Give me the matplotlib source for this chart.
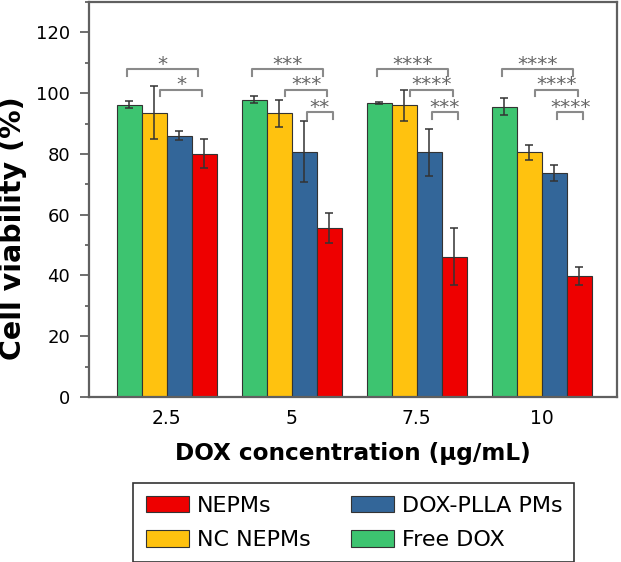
import numpy as np
import matplotlib.pyplot as plt
from matplotlib.ticker import MultipleLocator

plt.rcParams['font.family'] = 'DejaVu Sans'

# data (cell viability %, mean and error)
concentrations = ['2.5', '5', '7.5', '10']
free_dox = [96.2, 97.9, 96.8, 95.6]
free_dox_err = [1.2, 1.2, 0.3, 2.9]
nc_nepms = [93.6, 93.4, 96.0, 80.6]
nc_nepms_err = [8.7, 4.5, 5.0, 2.5]
dox_plla = [86.0, 80.7, 80.5, 73.7]
dox_plla_err = [1.5, 10.0, 7.7, 2.6]
nepms = [80.1, 55.6, 46.2, 39.8]
nepms_err = [4.8, 5.0, 9.3, 3.1]

# significance brackets, each one compares a bar with NEPMs in the same group
sig_group = [0, 0, 1, 1, 1, 2, 2, 2, 3, 3, 3]
sig_bar = [0, 1, 0, 1, 2, 0, 1, 2, 0, 1, 2]
sig_label = ['*', '*', '***', '***', '**', '****', '****', '***', '****', '****', '****']

fig = plt.figure(figsize=(6.21, 5.62), dpi=100)
ax = fig.add_axes([89 / 621, 165 / 562, 528 / 621, 395 / 562])

x = np.arange(len(concentrations))
width = 0.2
series = [
    (free_dox, free_dox_err, '#3DC470', 'Free DOX'),
    (nc_nepms, nc_nepms_err, '#FFC20F', 'NC NEPMs'),
    (dox_plla, dox_plla_err, '#336699', 'DOX-PLLA PMs'),
    (nepms, nepms_err, '#EE0000', 'NEPMs'),
]
handles = {}
for i, (vals, errs, col, name) in enumerate(series):
    handles[name] = ax.bar(x + (i - 1.5) * width, vals, width, yerr=errs, color=col,
                           edgecolor='#333333', linewidth=0.8, capsize=3, label=name, zorder=2,
                           error_kw=dict(ecolor='#333333', elinewidth=1.1, capthick=1.1))

# brackets: heights and small end offsets per bracket level
bracket_y = [107.9, 101.2, 93.8]
left_shift = [-0.02, 0.048, 0.024]
right_shift = [-0.048, -0.014, 0.027]
for g, b, lab in zip(sig_group, sig_bar, sig_label):
    x0 = g + (b - 1.5) * width + left_shift[b]
    x1 = g + 1.5 * width + right_shift[b]
    y = bracket_y[b]
    ax.plot([x0, x0, x1, x1], [y - 2.3, y, y, y - 2.3], color='#8a8a8a', lw=1.5, zorder=3)
    ax.annotate(lab, xy=((x0 + x1) / 2, y), xytext=(0, 3.5), textcoords='offset points',
                ha='center', va='center', fontsize=14.5, color='#666666')

ax.set_xlim(-0.62, 3.6)
ax.set_ylim(0, 130)
ax.set_xticks(x)
ax.set_xticklabels(concentrations)
ax.set_yticks(np.arange(0, 121, 20))
ax.yaxis.set_minor_locator(MultipleLocator(10))
ax.tick_params(axis='x', length=0, pad=9, labelsize=13.5)
ax.tick_params(axis='y', which='major', length=6.5, width=1.2, color='#555555', pad=7, labelsize=13)
ax.tick_params(axis='y', which='minor', length=3, width=1.2, color='#555555')
for s in ax.spines.values():
    s.set_color('#606060')
    s.set_linewidth(1.6)

ax.set_xlabel('DOX concentration (µg/mL)', fontsize=16.7, fontweight='bold')
ax.set_ylabel('Cell viability (%)', fontsize=20.5, fontweight='bold')
ax.xaxis.set_label_coords(0.5, -0.114)
ax.yaxis.set_label_coords(-0.118, 0.427)

order = ['NEPMs', 'NC NEPMs', 'DOX-PLLA PMs', 'Free DOX']
leg = fig.legend([handles[n] for n in order], order, ncol=2, loc='upper center',
                 bbox_to_anchor=(0.570, 0.140), fontsize=16, fancybox=False,
                 edgecolor='#333333', framealpha=1, handlelength=1.94, handleheight=0.75,
                 handletextpad=0.36, columnspacing=1.8, labelspacing=0.66, borderpad=0.55,
                 borderaxespad=0)
leg.get_frame().set_linewidth(1.2)

fig.savefig('out.png', dpi=100)
